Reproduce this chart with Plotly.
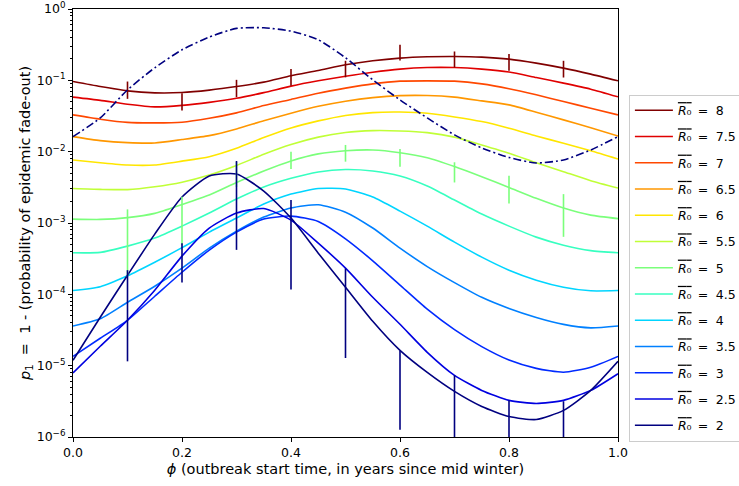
import plotly.graph_objects as go

# Outbreak start time (years since mid winter)
phi = [0.0, 0.05, 0.1, 0.15, 0.2, 0.25, 0.3, 0.35, 0.4, 0.45, 0.5,
       0.55, 0.6, 0.65, 0.7, 0.75, 0.8, 0.85, 0.9, 0.95, 1.0]

# p1 = 1 - P(fade-out), one curve per mean reproduction number
p1_r8_0 = [0.0962, 0.0818, 0.0712, 0.0667, 0.0674, 0.0729, 0.0818, 0.0943, 0.1157, 0.1373, 0.165,
           0.188, 0.205, 0.2138, 0.216, 0.2117, 0.1985, 0.1745, 0.1484, 0.1222, 0.0984]
p1_r7_5 = [0.0581, 0.0524, 0.0463, 0.0425, 0.0446, 0.0491, 0.0560, 0.0672, 0.0829, 0.0984, 0.114,
           0.130, 0.1436, 0.151, 0.151, 0.1436, 0.131, 0.1094, 0.0914, 0.0752, 0.0587]
p1_r7_0 = [0.0328, 0.0285, 0.0257, 0.0253, 0.0259, 0.0294, 0.035, 0.0443, 0.054, 0.0661, 0.0777,
           0.0893, 0.0975, 0.0984, 0.0975, 0.0893, 0.0764, 0.0626, 0.0504, 0.0407, 0.0328]
p1_r6_5 = [0.01626, 0.01427, 0.01337, 0.01325, 0.01479, 0.01678, 0.02084, 0.0271, 0.0346, 0.0432, 0.051,
           0.0573, 0.061, 0.0612, 0.0581, 0.0515, 0.0453, 0.0358, 0.0279, 0.0217, 0.0166]
p1_r6_0 = [0.00765, 0.0070, 0.0065, 0.0065, 0.00736, 0.0085, 0.01116, 0.0158, 0.02153, 0.027, 0.0322,
           0.0353, 0.0359, 0.0346, 0.0307, 0.0264, 0.0213, 0.0166, 0.0131, 0.0103, 0.0079]
p1_r5_5 = [0.00304, 0.00296, 0.00294, 0.00322, 0.00373, 0.00471, 0.00640, 0.0092, 0.0126, 0.0160, 0.0186,
           0.0197, 0.0195, 0.0185, 0.016, 0.0124, 0.0095, 0.00700, 0.00524, 0.00392, 0.00309]
p1_r5_0 = [0.001135, 0.001123, 0.00119, 0.001364, 0.001813, 0.002465, 0.00369, 0.00535, 0.0074, 0.0093, 0.0103,
           0.01056, 0.00968, 0.00824, 0.0062, 0.00446, 0.00315, 0.002215, 0.00162, 0.00129, 0.001153]
p1_r4_5 = [0.000382, 0.000387, 0.000474, 0.000614, 0.000904, 0.001377, 0.002166, 0.003193, 0.00423, 0.00519, 0.00562,
           0.00536, 0.00456, 0.00330, 0.0021, 0.001334, 0.000904, 0.000634, 0.000489, 0.00041, 0.000382]
p1_r4_0 = [0.000113, 0.000128, 0.000182, 0.000282, 0.000451, 0.000745, 0.001172, 0.001842, 0.002546, 0.00304, 0.00299,
           0.002311, 0.001469, 0.000904, 0.000539, 0.000332, 0.000218, 0.000158, 0.000126, 0.000112, 0.000113]
p1_r3_5 = [3.6e-5, 4.54e-5, 7.74e-5, 0.00013, 0.000233, 0.000444, 0.000769, 0.00121, 0.00162, 0.00180, 0.00142,
           0.00085, 0.000445, 0.000245, 0.000146, 9.1e-5, 6.35e-5, 4.75e-5, 3.79e-5, 3.39e-5, 3.6e-5]
p1_r3_0 = [1.35e-5, 2.42e-5, 4.33e-5, 9.4e-5, 0.000204, 0.000416, 0.000745, 0.001135, 0.00125, 0.00105, 0.00060,
           0.000295, 0.000135, 6.2e-5, 3.2e-5, 1.85e-5, 1.2e-5, 9.17e-6, 8.1e-6, 9.5e-6, 1.35e-5]
p1_r2_5 = [7.92e-6, 1.87e-5, 4.33e-5, 0.000114, 0.000343, 0.000848, 0.001377, 0.001593, 0.001098, 0.000522, 0.000233,
           9.1e-5, 3.8e-5, 1.54e-5, 7.31e-6, 4.5e-6, 3.26e-6, 2.95e-6, 3.26e-6, 4.5e-6, 7.72e-6]
p1_r2_0 = [1.19e-5, 4.77e-5, 0.000185, 0.000698, 0.002311, 0.00456, 0.00486, 0.002805, 0.001172, 0.000378, 0.000126,
           4.19e-5, 1.64e-5, 8.05e-6, 4.36e-6, 2.68e-6, 1.94e-6, 1.76e-6, 2.36e-6, 4.5e-6, 1.15e-5]

r0_labels = ["8", "7.5", "7", "6.5", "6", "5.5", "5", "4.5", "4", "3.5", "3", "2.5", "2"]
p1_curves = [p1_r8_0, p1_r7_5, p1_r7_0, p1_r6_5, p1_r6_0, p1_r5_5, p1_r5_0,
             p1_r4_5, p1_r4_0, p1_r3_5, p1_r3_0, p1_r2_5, p1_r2_0]

# Seasonal forcing profile (dash-dot)
seasonal = [0.01626, 0.0297, 0.0735, 0.1498, 0.268, 0.405, 0.535, 0.545, 0.49, 0.3706, 0.207,
            0.1016, 0.0532, 0.0297, 0.01717, 0.01127, 0.00829, 0.00694, 0.00765, 0.01056, 0.01626]

# Stochastic simulation estimates (mean and spread) at a coarser grid
phi_sim = [0.1, 0.2, 0.3, 0.4, 0.5, 0.6, 0.7, 0.8, 0.9]
sim_r8_mid = [0.0756, 0.0519, 0.0798, 0.1137, 0.149, 0.252, 0.2025, 0.1846, 0.1487]
sim_r8_err = [0.0206, 0.0142, 0.0218, 0.0300, 0.0389, 0.063, 0.0513, 0.0487, 0.0392]
sim_r5_mid = [0.000864, 0.001411, 0.00518, 0.00786, 0.00983, 0.00853, 0.0054, 0.00324, 0.00159]
sim_r5_err = [0.000688, 0.000922, 0.00199, 0.00214, 0.00259, 0.00237, 0.0017, 0.00136, 0.00095]
sim_r2_mid = [0.0001148, 0.000334, 0.00391, 0.001107, 0.0001216, 8.65e-6, 3.66e-6, 1.63e-6, 1.58e-6]
sim_r2_err = [0.0001033, 0.000188, 0.00349, 0.00099, 0.0001088, 7.39e-6, 3.66e-6, 1.63e-6, 1.58e-6]

# matplotlib "jet" colour map segments
_JET = {
    "r": [(0, 0, 0), (0.35, 0, 0), (0.66, 1, 1), (0.89, 1, 1), (1, 0.5, 0.5)],
    "g": [(0, 0, 0), (0.125, 0, 0), (0.375, 1, 1), (0.64, 1, 1), (0.91, 0, 0), (1, 0, 0)],
    "b": [(0, 0.5, 0.5), (0.11, 1, 1), (0.34, 1, 1), (0.65, 0, 0), (1, 0, 0)],
}


def jet(t):
    rgb = []
    for ch in ("r", "g", "b"):
        seg = _JET[ch]
        val = seg[-1][1]
        for a, b in zip(seg, seg[1:]):
            if a[0] <= t <= b[0]:
                val = a[2] + (b[1] - a[2]) * (t - a[0]) / (b[0] - a[0])
                break
        rgb.append(round(255 * val))
    return "rgb({},{},{})".format(*rgb)


n = len(r0_labels)
colors = [jet(1 - i / (n - 1)) for i in range(n)]

FONT = "DejaVu Sans"
fig = go.Figure()

for i, (lab, ys) in enumerate(zip(r0_labels, p1_curves)):
    fig.add_trace(go.Scatter(
        x=phi, y=ys, mode="lines",
        line=dict(color=colors[i], width=1.6, shape="spline", smoothing=0.6),
        name='<span style="text-decoration:overline"><i>R</i>\u2080</span>\u2002=\u2002\u200a' + lab,
        legendgroup="g" + str(i),
    ))

for mid, err, col in [(sim_r8_mid, sim_r8_err, colors[0]),
                      (sim_r5_mid, sim_r5_err, colors[6]),
                      (sim_r2_mid, sim_r2_err, colors[12])]:
    fig.add_trace(go.Scatter(
        x=phi_sim, y=mid, mode="markers",
        marker=dict(size=1, color="rgba(0,0,0,0)"),
        error_y=dict(type="data", array=err, symmetric=True, width=0,
                     thickness=1.6, color=col),
        showlegend=False, hoverinfo="skip",
    ))

fig.add_trace(go.Scatter(
    x=phi, y=seasonal, mode="lines",
    line=dict(color="#000080", width=1.6, dash="8px,3px,2px,3px", shape="spline", smoothing=0.6),
    showlegend=False,
))

ytickvals = [10.0 ** e for e in range(-6, 1)]
yticktext = ["10<sup>−6</sup>", "10<sup>−5</sup>", "10<sup>−4</sup>", "10<sup>−3</sup>",
             "10<sup>−2</sup>", "10<sup>−1</sup>", "10<sup>0</sup>"]
yminor = [k * 10.0 ** e for e in range(-6, 0) for k in range(2, 10)]

fig.update_layout(
    width=739, height=486,
    margin=dict(l=73, r=121, t=9, b=49, autoexpand=False),
    paper_bgcolor="white", plot_bgcolor="white",
    font=dict(family=FONT, size=12.5, color="black"),
    showlegend=True,
    legend=dict(
        x=1.02, xanchor="left", y=0.8, yanchor="top",
        bordercolor="#cccccc", borderwidth=1, bgcolor="white",
        font=dict(family=FONT, size=12.5, color="black"),
        traceorder="grouped", tracegroupgap=7, itemwidth=38,
    ),
    xaxis=dict(
        range=[0, 1], tickvals=[0, 0.2, 0.4, 0.6, 0.8, 1.0],
        ticktext=["0.0", "0.2", "0.4", "0.6", "0.8", "1.0"],
        ticks="outside", ticklen=4, tickwidth=1, tickcolor="black",
        showline=True, linecolor="black", linewidth=1, mirror=True,
        showgrid=False, zeroline=False,
        title=dict(text="<i>ϕ</i> (outbreak start time, in years since mid winter)",
                   standoff=4, font=dict(size=14.5)),
    ),
    yaxis=dict(
        type="log", range=[-6, 0],
        tickmode="array", tickvals=ytickvals, ticktext=yticktext,
        ticks="outside", ticklen=4, tickwidth=1, tickcolor="black",
        minor=dict(tickmode="array", tickvals=yminor, ticks="outside",
                   ticklen=2, tickwidth=0.8, tickcolor="black", showgrid=False),
        showline=True, linecolor="black", linewidth=1, mirror=True,
        showgrid=False, zeroline=False,
        title=dict(text="<i>p</i><sub>1</sub>  =  1 - (probability of epidemic fade-out)",
                   standoff=2, font=dict(size=14.5)),
    ),
)

fig.write_html("out.html")
